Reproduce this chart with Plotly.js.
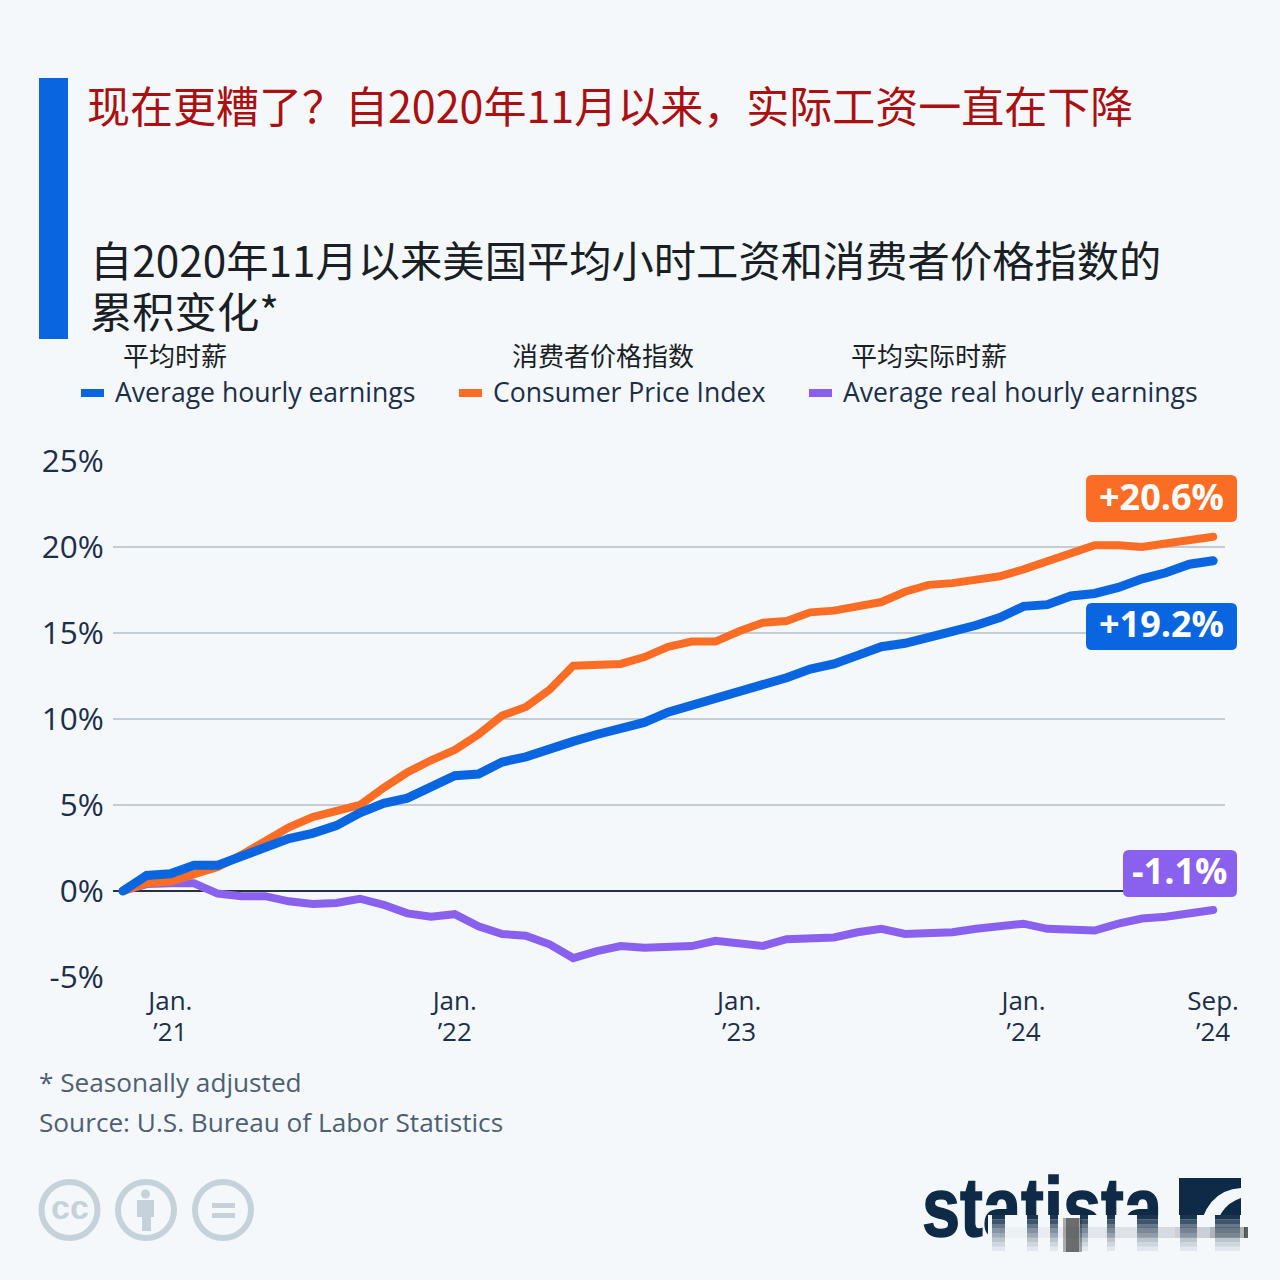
<!DOCTYPE html>
<html><head><meta charset="utf-8">
<script src="https://cdn.plot.ly/plotly-3.0.1.min.js"></script>
<style>html,body{margin:0;padding:0;background:#f4f8fb}#c{width:1280px;height:1280px}
.js-line{stroke-linecap:round !important}</style></head>
<body><div id="c"></div>
<script>
const months = ["2020-11","2020-12","2021-01","2021-02","2021-03","2021-04","2021-05","2021-06","2021-07","2021-08","2021-09","2021-10","2021-11","2021-12","2022-01","2022-02","2022-03","2022-04","2022-05","2022-06","2022-07","2022-08","2022-09","2022-10","2022-11","2022-12","2023-01","2023-02","2023-03","2023-04","2023-05","2023-06","2023-07","2023-08","2023-09","2023-10","2023-11","2023-12","2024-01","2024-02","2024-03","2024-04","2024-05","2024-06","2024-07","2024-08","2024-09"];
const earnings = [0,0.9,1.0,1.5,1.5,2.0,2.6,3.05,3.35,3.8,4.55,5.1,5.4,6.0,6.7,6.8,7.5,7.8,8.3,8.7,9.1,9.5,9.8,10.4,10.8,11.2,11.6,11.9,12.4,12.9,13.2,13.7,14.2,14.4,14.8,15.1,15.45,15.9,16.55,16.65,17.15,17.3,17.65,18.15,18.5,19.0,19.2];
const cpi = [0,0.45,0.55,1.0,1.4,2.1,2.9,3.7,4.3,4.6,5.0,6.0,6.9,7.6,8.2,9.1,10.2,10.7,11.7,13.1,13.1,13.2,13.6,14.2,14.5,14.5,15.1,15.6,15.7,16.2,16.3,16.5,16.8,17.4,17.8,17.9,18.1,18.3,18.7,19.2,19.7,20.1,20.1,20.0,20.2,20.4,20.6];
const real = [0,0.4,0.45,0.45,-0.15,-0.3,-0.3,-0.6,-0.75,-0.7,-0.45,-0.8,-1.3,-1.5,-1.35,-2.05,-2.5,-2.6,-3.1,-3.9,-3.5,-3.2,-3.3,-3.3,-3.2,-2.9,-3.1,-3.2,-2.8,-2.8,-2.7,-2.4,-2.2,-2.5,-2.5,-2.4,-2.2,-2.1,-1.9,-2.2,-2.2,-2.3,-1.9,-1.6,-1.5,-1.3,-1.1];
const xTickVals = ["2021-01","2022-01","2023-01","2024-01","2024-09"];
const xTickText = ["Jan.<br>’21","Jan.<br>’22","Jan.<br>’23","Jan.<br>’24","Sep.<br>’24"];
const yTickVals = [-5,0,5,10,15,20,25];
const yTickText = ["-5%","0%","5%","10%","15%","20%","25%"];
const seriesNames = ["Average hourly earnings","Consumer Price Index","Average real hourly earnings"];
const seriesNamesZh = ["平均时薪","消费者价格指数","平均实际时薪"];
const BLUE="#0a66e0", ORANGE="#fb6d25", PURPLE="#8a60ee", INK="#1c2f48", GREY="#4e5f73", BG="#f4f8fb";

const L=113,R=1225,T=461,B=977;
const px=x=>(x-L)/(R-L), py=y=>(B-y)/(B-T);
const shapes=[], ann=[];
function rrect(x0,y0,x1,y1,r,color){
  const X0=px(x0),X1=px(x1),Y0=py(y0),Y1=py(y1),rx=r/(R-L),ry=r/(B-T);
  shapes.push({type:'path',xref:'paper',yref:'paper',layer:'above',line:{width:0},fillcolor:color,
   path:`M${X0+rx},${Y0} L${X1-rx},${Y0} Q${X1},${Y0} ${X1},${Y0-ry} L${X1},${Y1+ry} Q${X1},${Y1} ${X1-rx},${Y1} L${X0+rx},${Y1} Q${X0},${Y1} ${X0},${Y1+ry} L${X0},${Y0-ry} Q${X0},${Y0} ${X0+rx},${Y0} Z`});
}
function rect(x0,y0,x1,y1,color){shapes.push({type:'rect',xref:'paper',yref:'paper',layer:'above',line:{width:0},fillcolor:color,x0:px(x0),x1:px(x1),y0:py(y0),y1:py(y1)});}
function circle(cx,cy,r,lineColor,w,fill){shapes.push({type:'circle',xref:'paper',yref:'paper',layer:'above',line:{width:w,color:lineColor},fillcolor:fill||'rgba(0,0,0,0)',x0:px(cx-r),x1:px(cx+r),y0:py(cy+r),y1:py(cy-r)});}
function path(pts,color){shapes.push({type:'path',xref:'paper',yref:'paper',layer:'above',line:{width:0},fillcolor:color,path:pts(px,py)});}
function text(t,x,y,size,color,family,anchor,weight){ann.push({xref:'paper',yref:'paper',x:px(x),y:py(y),text:t,showarrow:false,xanchor:anchor||'left',yanchor:'middle',align:anchor||'left',font:{size,color,family,weight:weight||400}});}

const CJK='"Noto Sans CJK SC"', OS='"Open Sans"';
rect(39,78,68,339,BLUE);
text("现在更糟了？自2020年11月以来，实际工资一直在下降",85,104,43,"#ab0f10",CJK);
text("自2020年11月以来美国平均小时工资和消费者价格指数的<br>累积变化*",88,285.5,42.3,"#1a1f26",CJK);

text(seriesNamesZh[0],121,354,26,"#1a1f26",CJK);
text(seriesNamesZh[1],510,354,26,"#1a1f26",CJK);
text(seriesNamesZh[2],849,354,26,"#1a1f26",CJK);
[[81,113,BLUE],[459,491,ORANGE],[809,841,PURPLE]].forEach((l,i)=>{
  rect(l[0],389,l[0]+23,397,l[2]);
  text(seriesNames[i],l[1],392,26.6,INK,OS);
});

rrect(1086,475,1237,522,6,ORANGE);
text("+20.6%",1161.5,496,36,"#fff",OS,'center',700);
rrect(1086,603,1237,650,6,BLUE);
text("+19.2%",1161.5,623,36,"#fff",OS,'center',700);
rrect(1123,850,1237,897,6,PURPLE);
text("-1.1%",1179,870,36,"#fff",OS,'center',700);

text("* Seasonally adjusted",37,1082,26.2,GREY,OS);
text("Source: U.S. Bureau of Labor Statistics",37,1122,26.2,GREY,OS);

// licence icons
const CC="#c6d2da";
circle(69.5,1210,28,CC,6); circle(146,1210,28,CC,6); circle(223,1210,28,CC,6);
text("cc",69.5,1207,34,CC,'"Liberation Sans"','center',700);
circle(145.5,1194,4.5,CC,0,CC);
rect(137,1200,154,1217,CC); rect(142,1216,151,1231,CC);
rect(212,1203,235,1208,CC); rect(212,1213,235,1218,CC);

// logo
const NAVY="#0f2a47";
text("statista",920,1207,84,NAVY,'"Liberation Sans"','left',700);
path((x,y)=>`M${x(1179)},${y(1178)} L${x(1241)},${y(1178)} L${x(1241)},${y(1188)} Q${x(1204)},${y(1190)} ${x(1197)},${y(1240)} L${x(1179)},${y(1240)} Z`,NAVY);
path((x,y)=>`M${x(1241)},${y(1198)} L${x(1241)},${y(1240)} L${x(1214)},${y(1240)} Q${x(1216)},${y(1206)} ${x(1241)},${y(1198)} Z`,NAVY);
// smeared lower part of the logo, as in the reference; lifted over the logo text after drawing
const smearStart=shapes.length;
rect(988,1215,1252,1256,BG);
const bars=[[992,1005],[1027,1038],[1050,1058],[1080,1088],[1107,1115],[1137,1158],[1180,1197],[1215,1240]];
const fade=[0.95,0.8,0.62,0.48,0.36,0.25,0.16,0.08];
bars.forEach(b=>fade.forEach((a,i)=>rect(b[0],1215+i*4.5,b[1],1219.5+i*4.5,`rgba(15,42,71,${a})`)));
[[1063,1082,0.35],[1066,1079,0.45]].forEach(d=>rect(d[0],1218,d[1],1252,`rgba(30,30,30,${d[2]})`));
[0.04,0.06,0.09,0.12,0.16,0.22,0.38].forEach((a,i)=>rect(1000+i*35,1227,1035+i*35,1238,`rgba(60,70,80,${a})`));
rect(1244,1227,1248,1238,'rgba(30,30,30,0.7)');

const line=(y,name,color,w)=>({type:'scatter',mode:'lines',x:months,y,name,line:{color,width:w,shape:'linear'},hoverinfo:'skip'});
Plotly.newPlot('c',[
  line(real,seriesNames[2],PURPLE,8),
  line(cpi,seriesNames[1],ORANGE,8),
  line(earnings,seriesNames[0],BLUE,9)
],{
  width:1280,height:1280,autosize:false,showlegend:false,
  paper_bgcolor:BG,plot_bgcolor:BG,
  margin:{l:L,r:1280-R,t:T,b:1280-B,pad:0},
  font:{family:OS,color:INK},
  xaxis:{type:'category',categoryorder:'array',categoryarray:months,range:[-0.42,46.5],tickmode:'array',tickvals:xTickVals,ticktext:xTickText,
    showgrid:false,zeroline:false,showline:false,ticks:'outside',ticklen:1,tickcolor:'rgba(0,0,0,0)',tickfont:{size:26,color:INK,family:OS}},
  yaxis:{range:[-5,25],tickmode:'array',tickvals:yTickVals,ticktext:yTickText,showgrid:true,gridcolor:'#c5ccd3',gridwidth:2,
    zeroline:true,zerolinecolor:'#26323f',zerolinewidth:1.5,showline:false,ticks:'outside',ticklen:2,tickcolor:'rgba(0,0,0,0)',tickfont:{size:31.5,color:INK,family:OS}},
  shapes,annotations:ann
},{displayModeBar:false,staticPlot:true}).then(()=>{
  let logo=null;
  document.querySelectorAll('.annotation-text').forEach(t=>{
    if(t.textContent==='statista'){
      logo=t;
      t.setAttribute('textLength','240');
      t.setAttribute('lengthAdjust','spacingAndGlyphs');
      t.style.stroke=NAVY; t.style.strokeWidth='1.5px';
    }
    const ls=t.querySelectorAll('tspan.line');
    if(ls.length===2){ ls[1].setAttribute('dy','51px'); }
  });
  document.querySelectorAll('.xtick text').forEach(t=>{
    const ls=t.querySelectorAll('tspan.line');
    if(ls.length===2){ ls[1].setAttribute('dy','31px'); }
  });
  if(logo){
    const svg=logo.closest('svg');
    const g=document.createElementNS('http://www.w3.org/2000/svg','g');
    document.querySelectorAll('.layer-above .shapelayer path').forEach(p=>{
      if(+p.getAttribute('data-index')>=smearStart) g.appendChild(p);
    });
    svg.appendChild(g);
  }
});
</script></body></html>
